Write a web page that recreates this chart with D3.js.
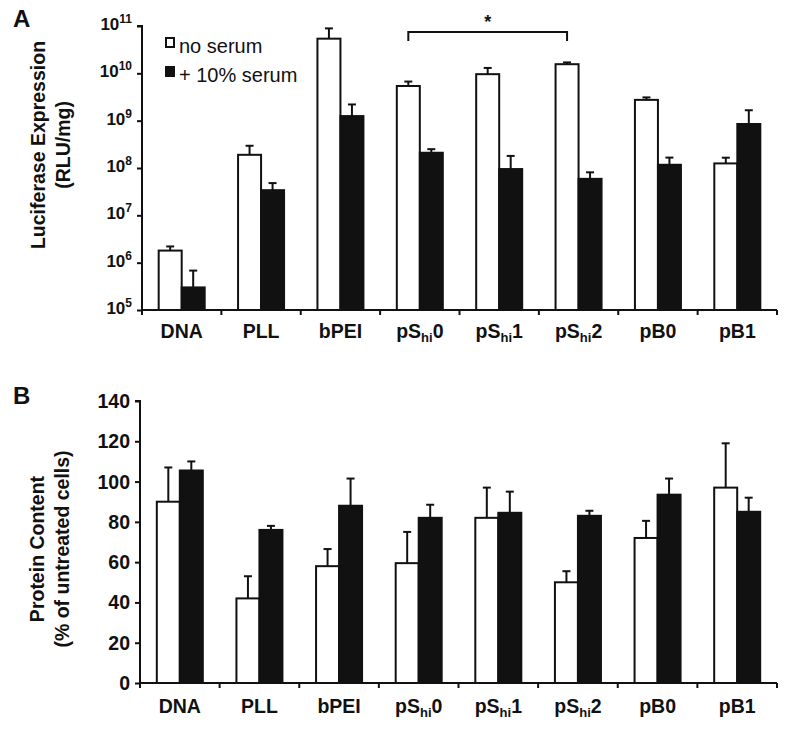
<!DOCTYPE html>
<html>
<head>
<meta charset="utf-8">
<script src="https://cdn.jsdelivr.net/npm/d3@7"></script>
<style>
  body { margin: 0; background: #fff; }
  svg { font-family: "Liberation Sans", Arial, Helvetica, sans-serif; }
</style>
</head>
<body>
<svg id="chart" width="795" height="733"></svg>
<script>
// data
const categories = ['DNA', 'PLL', 'bPEI', 'pS_hi0', 'pS_hi1', 'pS_hi2', 'pB0', 'pB1'];
const seriesNames = ['no serum', '+ 10% serum'];

// panel A, luciferase (RLU/mg)
const lucNoSerum = [1.8e6, 1.9e8, 5.4e10, 5.4e9, 9.6e9, 1.56e10, 2.75e9, 1.25e8];
const lucNoSerumErr = [2.2e6, 2.95e8, 8.9e10, 6.7e9, 1.3e10, 1.7e10, 3.1e9, 1.65e8];
const lucSerum = [3.0e5, 3.4e7, 1.25e9, 2.1e8, 9.5e7, 5.9e7, 1.17e8, 8.5e8];
const lucSerumErr = [6.8e5, 4.8e7, 2.2e9, 2.5e8, 1.8e8, 8.1e7, 1.66e8, 1.66e9];
const lucTicks = [1e5, 1e6, 1e7, 1e8, 1e9, 1e10, 1e11];

// panel B, protein content (% of untreated)
const protNoSerum = [90, 42, 58, 59.5, 82, 50, 72, 97];
const protNoSerumErr = [107, 53, 66.5, 75, 97, 55.5, 80.5, 119];
const protSerum = [105.5, 76, 88, 82, 84.5, 83, 93.5, 85];
const protSerumErr = [110, 78, 101.5, 88.5, 95, 85.5, 101.5, 92];
const protTicks = [0, 20, 40, 60, 80, 100, 120, 140];

const fills = ['#fff', '#111'];

const svg = d3.select('#chart');

const addCatLabel = (sel) => {
    sel.each(function (d) {
        const t = d3.select(this);
        const m = d.match(/^(.*)_hi(.*)$/);
        if (m) {
            t.append('tspan').text(m[1]);
            t.append('tspan').attr('font-size', 13).attr('dy', 4).text('hi');
            t.append('tspan').attr('dy', -4).text(m[2]);
        } else {
            t.text(d);
        }
    })
}

const drawPanel = (opt) => {
    const g = svg.append('g');
    const x = d3.scaleBand().domain(categories).range([opt.x0, opt.x1]);
    const groupW = 46;
    const xs = d3.scaleBand().domain([0, 1])
        .range([(x.bandwidth() - groupW) / 2, (x.bandwidth() + groupW) / 2]);
    const y = opt.y;

    const rows = categories.map((c, i) => [
        { c: c, s: 0, v: opt.a[i], e: opt.ae[i] },
        { c: c, s: 1, v: opt.b[i], e: opt.be[i] }
    ]).flat();

    // bars
    g.selectAll('rect.bar')
        .data(rows)
        .enter()
        .append('rect')
        .attr('class', 'bar')
        .attr('x', d => x(d.c) + xs(d.s))
        .attr('width', xs.bandwidth())
        .attr('y', d => y(d.v))
        .attr('height', d => y.range()[0] - y(d.v))
        .attr('fill', d => fills[d.s])
        .attr('stroke', '#111')
        .attr('stroke-width', 2)

    // error bars (upper only)
    const eb = g.selectAll('g.err')
        .data(rows)
        .enter()
        .append('g')
        .attr('stroke', '#111')
        .attr('stroke-width', 2)
    eb.append('line')
        .attr('x1', d => x(d.c) + xs(d.s) + xs.bandwidth() / 2)
        .attr('x2', d => x(d.c) + xs(d.s) + xs.bandwidth() / 2)
        .attr('y1', d => y(d.v))
        .attr('y2', d => y(d.e))
    eb.append('line')
        .attr('x1', d => x(d.c) + xs(d.s) + xs.bandwidth() / 2 - 4)
        .attr('x2', d => x(d.c) + xs(d.s) + xs.bandwidth() / 2 + 4)
        .attr('y1', d => y(d.e))
        .attr('y2', d => y(d.e))

    // y axis
    const yAxis = g.append('g')
        .attr('transform', `translate(${opt.x0},0)`)
        .call(d3.axisLeft(y).tickValues(opt.ticks).tickSize(5).tickFormat(''))
    yAxis.select('.domain').attr('stroke', '#111').attr('stroke-width', 2)
        .attr('d', `M-5,${y(opt.ticks[opt.ticks.length - 1])}H0V${y.range()[0]}`)
    yAxis.selectAll('.tick line').attr('stroke', '#111').attr('stroke-width', 2)

    g.selectAll('text.ytick')
        .data(opt.ticks)
        .enter()
        .append('text')
        .attr('class', 'ytick')
        .attr('x', opt.x0 - 10)
        .attr('y', d => y(d))
        .attr('text-anchor', 'end')
        .attr('font-weight', 'bold')
        .attr('fill', '#111')
        .each(function (d) {
            const t = d3.select(this);
            if (opt.log) {
                t.attr('font-size', 17).attr('dy', 4);
                t.append('tspan').text('10');
                t.append('tspan').attr('font-size', 12).attr('dy', -7).text(Math.round(Math.log10(d)));
            } else {
                t.attr('font-size', 19.5).attr('dy', 7).text(d);
            }
        })

    // x axis
    const base = y.range()[0];
    g.append('line')
        .attr('x1', opt.x0).attr('x2', opt.x1)
        .attr('y1', base).attr('y2', base)
        .attr('stroke', '#111').attr('stroke-width', 2)
    const bounds = categories.map(c => x(c)).concat([opt.x1]);
    g.selectAll('line.xtick')
        .data(bounds)
        .enter()
        .append('line')
        .attr('x1', d => d).attr('x2', d => d)
        .attr('y1', base).attr('y2', base + 5)
        .attr('stroke', '#111').attr('stroke-width', 2)

    g.selectAll('text.cat')
        .data(categories)
        .enter()
        .append('text')
        .attr('class', 'cat')
        .attr('x', d => x(d) + x.bandwidth() / 2)
        .attr('y', opt.catY)
        .attr('text-anchor', 'middle')
        .attr('font-size', 19.5)
        .attr('font-weight', 'bold')
        .attr('fill', '#111')
        .call(addCatLabel)

    // axis title
    const tt = g.append('text')
        .attr('transform', `translate(${opt.titleX},${opt.titleY}) rotate(-90)`)
        .attr('text-anchor', 'middle')
        .attr('font-size', 19.5)
        .attr('font-weight', 'bold')
        .attr('fill', '#111')
    tt.append('tspan').attr('x', 0).attr('dy', 0).text(opt.title[0]);
    tt.append('tspan').attr('x', 0).attr('dy', 25).text(opt.title[1]);

    // panel letter
    g.append('text')
        .attr('x', 13).attr('y', opt.letterY)
        .attr('font-size', 24).attr('font-weight', 'bold').attr('fill', '#111')
        .text(opt.letter)

    return { x, xs, y };
}

const A = drawPanel({
    x0: 142, x1: 777,
    y: d3.scaleLog().domain([1e5, 1e11]).range([310, 26]),
    log: true, ticks: lucTicks,
    a: lucNoSerum, ae: lucNoSerumErr, b: lucSerum, be: lucSerumErr,
    catY: 338, title: ['Luciferase Expression', '(RLU/mg)'], titleX: 45, titleY: 145,
    letter: 'A', letterY: 27
})

drawPanel({
    x0: 140, x1: 777,
    y: d3.scaleLinear().domain([0, 140]).range([683, 401]),
    log: false, ticks: protTicks,
    a: protNoSerum, ae: protNoSerumErr, b: protSerum, be: protSerumErr,
    catY: 713, title: ['Protein Content', '(% of untreated cells)'], titleX: 44, titleY: 549,
    letter: 'B', letterY: 404
})

// significance bracket between pS_hi0 and pS_hi2 (no serum)
const bx1 = A.x('pS_hi0') + A.xs(0) + A.xs.bandwidth() / 2;
const bx2 = A.x('pS_hi2') + A.xs(0) + A.xs.bandwidth() / 2;
svg.append('path')
    .attr('d', `M${bx1},41V32H${bx2}V41`)
    .attr('fill', 'none').attr('stroke', '#111').attr('stroke-width', 2)
svg.append('text')
    .attr('x', (bx1 + bx2) / 2).attr('y', 28)
    .attr('text-anchor', 'middle').attr('font-size', 18).attr('font-weight', 'bold').attr('fill', '#111')
    .text('*')

// legend
const legend = svg.append('g').attr('transform', 'translate(166,38)');
legend.selectAll('rect')
    .data(seriesNames)
    .enter()
    .append('rect')
    .attr('x', 0)
    .attr('y', (d, i) => i * 29)
    .attr('width', 8).attr('height', 9)
    .attr('fill', (d, i) => fills[i])
    .attr('stroke', '#111').attr('stroke-width', 2)
legend.selectAll('text')
    .data(seriesNames)
    .enter()
    .append('text')
    .attr('x', 13)
    .attr('y', (d, i) => 15 + i * 29)
    .attr('font-size', 20)
    .attr('fill', '#111')
    .text(d => d)
</script>
</body>
</html>
